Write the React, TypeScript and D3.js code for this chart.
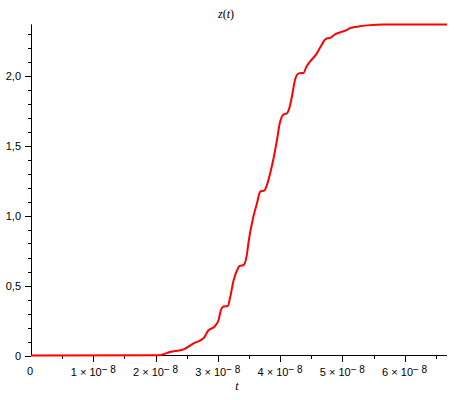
import React from "react";
import * as d3 from "d3";

// t in units of 1e-8
const tValues = [0, 2.0, 2.1, 2.23, 2.45, 2.61, 2.77, 2.85, 2.93, 3.01, 3.05, 3.09, 3.16, 3.2, 3.25, 3.32, 3.35, 3.41, 3.47, 3.49, 3.57, 3.63, 3.68, 3.75, 3.79, 3.84, 3.9, 3.95, 3.99, 4.05, 4.11, 4.15, 4.19, 4.24, 4.3, 4.38, 4.42, 4.49, 4.57, 4.65, 4.73, 4.81, 4.89, 5.0, 5.08, 5.13, 5.24, 5.4, 5.66, 6.68];
const zValues = [0, 0.002, 0.006, 0.025, 0.044, 0.087, 0.123, 0.18, 0.2, 0.25, 0.325, 0.35, 0.354, 0.42, 0.53, 0.62, 0.64, 0.645, 0.73, 0.8, 0.99, 1.09, 1.17, 1.18, 1.22, 1.3, 1.42, 1.54, 1.65, 1.72, 1.73, 1.77, 1.85, 1.97, 2.015, 2.02, 2.06, 2.105, 2.146, 2.205, 2.26, 2.27, 2.296, 2.313, 2.327, 2.34, 2.349, 2.358, 2.365, 2.365];

const xMajorTicks = [1, 2, 3, 4, 5, 6];
const xMinorTicks = [0.5, 1.5, 2.5, 3.5, 4.5, 5.5, 6.5];
const yMajorTicks = [0, 0.5, 1, 1.5, 2];
const yTickLabels = ["0", "0,5", "1,0", "1,5", "2,0"];
const yMinorTicks = [0.1, 0.2, 0.3, 0.4, 0.6, 0.7, 0.8, 0.9, 1.1, 1.2, 1.3, 1.4, 1.6, 1.7, 1.8, 1.9, 2.1, 2.2, 2.3];

export default function App() {
  const x = d3.scaleLinear().domain([0, 6.68]).range([31, 447]);
  const y = d3.scaleLinear().domain([0, 2.365]).range([355.5, 24.4]);
  const pts = tValues.map((t, i) => [t, zValues[i]] as [number, number]);
  const line = d3
    .line<[number, number]>()
    .x(d => x(d[0]))
    .y(d => y(d[1]))
    .curve(d3.curveMonotoneX);
  const path = line(pts) || "";
  const font = "'Liberation Sans', Arial, sans-serif";
  return (
    <svg width={454} height={400} style={{ position: "absolute", left: 0, top: 0, background: "#fff" }} fontFamily={font}>
      <rect x={0} y={0} width={454} height={400} fill="#fff" />
      <line x1={31.5} x2={31.5} y1={y(2.365)} y2={y(0)} stroke="#000" strokeWidth={1} />
      <line x1={31} x2={447} y1={355.5} y2={355.5} stroke="#000" strokeWidth={1} />
      {yMajorTicks.map(v => (
        <line key={"ym" + v} x1={25} x2={31} y1={Math.round(y(v)) + 0.5} y2={Math.round(y(v)) + 0.5} stroke="#000" />
      ))}
      {yMinorTicks.map(v => (
        <line key={"yn" + v} x1={28} x2={31} y1={Math.round(y(v)) + 0.5} y2={Math.round(y(v)) + 0.5} stroke="#000" />
      ))}
      {xMajorTicks.map(v => (
        <line key={"xm" + v} x1={Math.round(x(v)) + 0.5} x2={Math.round(x(v)) + 0.5} y1={356} y2={362} stroke="#000" />
      ))}
      {xMinorTicks.map(v => (
        <line key={"xn" + v} x1={Math.round(x(v)) + 0.5} x2={Math.round(x(v)) + 0.5} y1={356} y2={359} stroke="#000" />
      ))}
      {yMajorTicks.map((v, i) => (
        <text key={"yl" + v} x={21} y={y(v) + 4} textAnchor="end" fontSize={11} fill="#000">{yTickLabels[i]}</text>
      ))}
      <text x={30} y={375} textAnchor="middle" fontSize={11} fill="#000">0</text>
      {xMajorTicks.map(v => (
        <text key={"xl" + v} x={x(v)} y={376} textAnchor="middle" fontSize={11} fill="#000">
          {v + " \u00d7 10"}
          <tspan dy={-3} fontSize={10}>{"\u2212 8"}</tspan>
        </text>
      ))}
      <text x={237} y={390} textAnchor="middle" fontSize={12} fontStyle="italic" fontFamily="'Liberation Serif', serif" fill="#000">t</text>
      <text x={226} y={18} textAnchor="middle" fontSize={12} fontFamily="'Liberation Serif', serif" fill="#000">
        <tspan fontStyle="italic">z</tspan>(<tspan fontStyle="italic">t</tspan>)
      </text>
      <path d={path} fill="none" stroke="#ff0000" strokeWidth={2} />
    </svg>
  );
}
